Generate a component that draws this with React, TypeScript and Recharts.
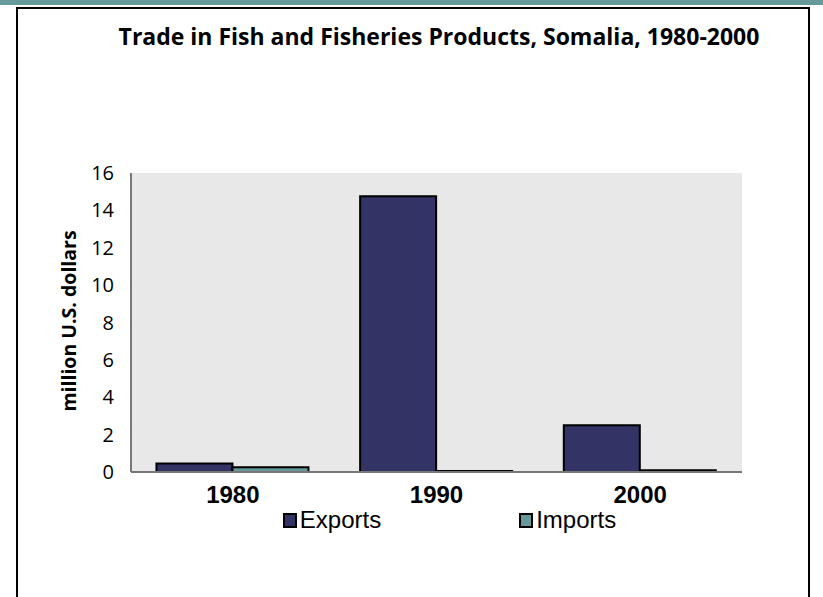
import React from 'react';
import { BarChart, Bar, XAxis, YAxis, CartesianGrid, Legend } from 'recharts';

const years = ['1980', '1990', '2000'];
const exportsValues = [0.45, 14.75, 2.5];
const importsValues = [0.25, 0.05, 0.1];
const yTicks = [0, 2, 4, 6, 8, 10, 12, 14, 16];

const data = years.map((year, i) => ({
  year,
  Exports: exportsValues[i],
  Imports: importsValues[i],
}));

const EXPORT_COLOR = '#333366';
const IMPORT_COLOR = '#669999';
const NARROW = '"Liberation Sans Narrow", "Arial Narrow", sans-serif';

if (typeof document !== 'undefined') document.body.style.margin = '0';

const YTick = ({ x, y, payload }: any) => (
  <text
    x={x}
    y={y}
    dy={7}
    textAnchor="end"
    fill="#000"
    style={{ fontFamily: '"Open Sans", sans-serif', fontSize: 20 }}
  >
    {payload.value}
  </text>
);

const renderLegend = () => (
  <div
    style={{
      display: 'flex',
      justifyContent: 'center',
      gap: 138,
      paddingLeft: 76,
      fontFamily: NARROW,
      fontSize: 24,
      lineHeight: '28px',
    }}
  >
    {[
      { name: 'Exports', color: EXPORT_COLOR },
      { name: 'Imports', color: IMPORT_COLOR },
    ].map((item) => (
      <div key={item.name} style={{ display: 'flex', alignItems: 'center' }}>
        <span
          style={{
            display: 'inline-block',
            width: 10,
            height: 11,
            background: item.color,
            border: '2px solid #000',
            marginRight: 3,
          }}
        />
        <span>{item.name}</span>
      </div>
    ))}
  </div>
);

export default function App() {
  return (
    <div style={{ position: 'relative', width: 823, height: 597, background: '#fff', overflow: 'hidden' }}>
      {/* teal strip along the top */}
      <div style={{ position: 'absolute', left: 0, top: 0, width: 823, height: 5, background: '#669999' }} />
      {/* framed panel */}
      <div
        style={{
          position: 'absolute',
          left: 16,
          top: 7,
          width: 794,
          height: 620,
          border: '2px solid #000',
          boxSizing: 'border-box',
        }}
      />
      <div
        style={{
          position: 'absolute',
          left: 0,
          top: 20,
          width: 878,
          textAlign: 'center',
          fontFamily: '"Open Sans", sans-serif',
          fontWeight: 700,
          fontSize: 23,
          whiteSpace: 'nowrap',
        }}
      >
        Trade in Fish and Fisheries Products, Somalia, 1980-2000
      </div>
      <div
        style={{
          position: 'absolute',
          left: 68,
          top: 321,
          transform: 'translate(-50%, -50%) rotate(-90deg)',
          fontFamily: '"Open Sans", sans-serif',
          fontWeight: 700,
          fontSize: 19.5,
          whiteSpace: 'nowrap',
        }}
      >
        million U.S. dollars
      </div>
      <div style={{ position: 'absolute', left: 0, top: 0 }}>
        <BarChart
          width={823}
          height={597}
          data={data}
          margin={{ top: 173, right: 81, bottom: 95, left: 0 }}
          barCategoryGap="12.5%"
          barGap={0}
        >
          <CartesianGrid fill="#e8e8e8" horizontal={false} vertical={false} />
          <XAxis
            dataKey="year"
            axisLine={{ stroke: '#777', strokeWidth: 2 }}
            tickLine={false}
            height={30}
            tick={{ fill: '#000', fontFamily: NARROW, fontWeight: 700, fontSize: 24 }}
            tickMargin={8}
          />
          <XAxis xAxisId="top" orientation="top" dataKey="year" height={0} tick={false} tickLine={false} axisLine={{ stroke: '#777', strokeWidth: 2 }} />
          <YAxis
            width={131}
            domain={[0, 16]}
            ticks={yTicks}
            interval={0}
            axisLine={{ stroke: '#777', strokeWidth: 2 }}
            tickLine={false}
            tickMargin={11}
            tick={YTick}
          />
          <YAxis yAxisId="right" orientation="right" width={0} domain={[0, 16]} tick={false} tickLine={false} axisLine={{ stroke: '#777', strokeWidth: 2 }} />
          <Legend
            verticalAlign="bottom"
            content={renderLegend}
            wrapperStyle={{ position: 'absolute', top: 506, left: 0, width: 823, height: 0 }}
          />
          <Bar dataKey="Exports" fill={EXPORT_COLOR} stroke="#000" strokeWidth={2} isAnimationActive={false} />
          <Bar dataKey="Imports" fill={IMPORT_COLOR} stroke="#000" strokeWidth={2} isAnimationActive={false} />
        </BarChart>
      </div>
    </div>
  );
}
